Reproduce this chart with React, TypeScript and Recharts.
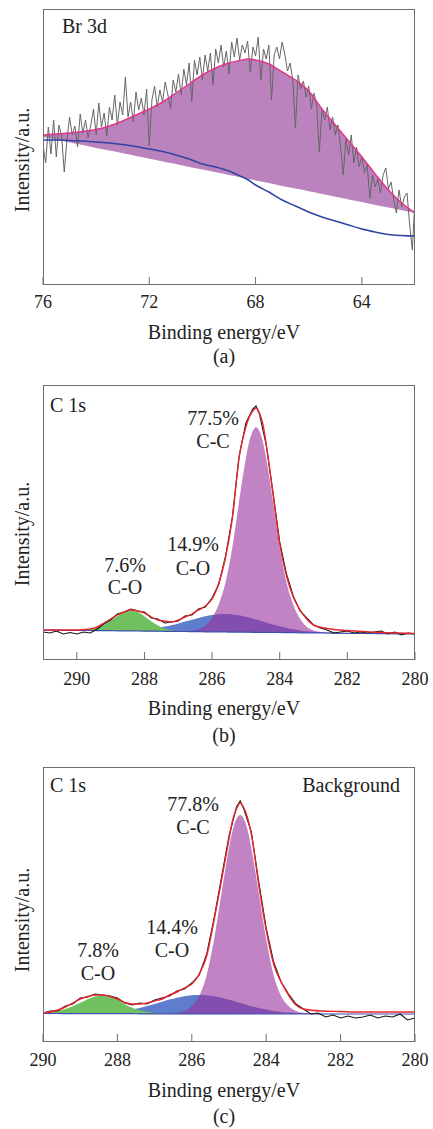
import { ComposedChart, Area, Line, XAxis, YAxis } from "recharts";

const W = 433;
const FONT = '"Liberation Serif", "Times New Roman", serif';
const FRAME = "#6e6e6e";

// ---------- (a) Br 3d ----------
const aE = [76, 75.5, 75, 74.5, 74, 73.5, 73, 72.5, 72, 71.5, 71, 70.5, 70, 69.5, 69, 68.5, 68.3, 68, 67.5, 67, 66.5, 66, 65.5, 65, 64.5, 64, 63.5, 63, 62.5, 62];
const aFit = [150, 151, 152, 153.5, 155.5, 159, 164, 170, 176, 183, 192, 201, 210, 217, 222, 225, 226, 225, 221, 213, 205, 194, 176, 160, 144, 128, 111, 95, 82, 72];
const aFloor = [148, 145.3, 142.6, 139.9, 137.1, 134.4, 131.7, 129, 126.3, 123.6, 120.9, 118.1, 115.4, 112.7, 110, 107.3, 106.2, 104.6, 101.9, 99.1, 96.4, 93.7, 91, 88.3, 85.6, 82.9, 80.1, 77.4, 74.7, 72];
const aBg = [145, 145, 144.5, 144, 143, 142, 140.5, 138.5, 136, 133.5, 130, 126, 121, 118, 114, 108, 105.5, 100, 93, 85, 79, 73, 68, 64, 60, 56, 53, 50.5, 49.5, 49];
// raw counts, 76.0 eV down to 62.0 eV every 0.1 eV
const aRawStart = 76;
const aRaw = [
  140, 122, 158, 131, 165, 128, 160, 149, 113, 145,
  168, 150, 159, 138, 171, 152, 165, 147, 160, 176,
  150, 182, 158, 172, 149, 178, 165, 190, 160, 183,
  170, 208, 168, 183, 163, 193, 175, 187, 170, 196,
  139, 185, 199, 178, 195, 183, 203, 190, 176, 205,
  193, 211, 190, 216, 200, 222, 183, 225, 210, 228,
  205, 230, 214, 232, 200, 236, 222, 240, 218, 234,
  211, 243, 228, 247, 225, 240, 232, 244, 213, 238,
  229, 248, 205, 236, 226, 240, 185, 230, 238, 226,
  243, 231, 214, 222, 205, 157, 210, 196, 204, 188,
  199, 176, 192, 180, 133, 176, 165, 178, 155, 168,
  150, 160, 138, 110, 146, 130, 150, 122, 138, 118,
  129, 112, 120, 87, 110, 98, 106, 92, 110, 117,
  96, 103, 85, 72, 95, 78, 88, 92, 60, 35,
  87,
];

// ---------- (b) C 1s ----------
const bE = [291, 290.5, 290, 289.8, 289.6, 289.4, 289.2, 289, 288.8, 288.6, 288.4, 288.2, 288, 287.8, 287.6, 287.4, 287.2, 287, 286.8, 286.6, 286.4, 286.2, 286, 285.8, 285.6, 285.4, 285.2, 285, 284.9, 284.8, 284.7, 284.6, 284.5, 284.4, 284.2, 284, 283.8, 283.6, 283.4, 283.2, 283, 282.5, 282, 281.5, 281, 280.5, 280];
const bBase = [30, 29.8, 29.6, 29.6, 29.5, 29.4, 29.3, 29.3, 29.2, 29.1, 29.1, 29, 28.9, 28.8, 28.8, 28.7, 28.6, 28.5, 28.5, 28.4, 28.3, 28.2, 28.2, 28.1, 28, 27.9, 27.9, 27.8, 27.8, 27.7, 27.7, 27.7, 27.6, 27.6, 27.5, 27.5, 27.4, 27.3, 27.2, 27.2, 27.1, 26.9, 26.7, 26.5, 26.4, 26.2, 26];
const bGreen = [0, 0, 0, 0.4, 1.1, 2.8, 5.7, 10, 14.9, 18.9, 20.5, 18.9, 14.9, 10, 5.7, 2.8, 1.1, 0.4, 0, 0, 0, 0, 0, 0, 0, 0, 0, 0, 0, 0, 0, 0, 0, 0, 0, 0, 0, 0, 0, 0, 0, 0, 0, 0, 0, 0, 0];
const bBlue = [0, 0, 0, 0, 0, 0, 0.1, 0.1, 0.25, 0.4, 0.7, 1.1, 1.6, 2.4, 3.4, 4.7, 6.2, 8, 9.9, 11.9, 13.8, 15.5, 16.8, 17.7, 18, 17.7, 16.8, 15.5, 14.7, 13.8, 12.8, 11.9, 10.9, 9.9, 8, 6.2, 4.7, 3.4, 2.4, 1.6, 1.1, 0.3, 0.1, 0, 0, 0, 0];
const bPink = [0, 0, 0, 0, 0, 0, 0, 0, 0, 0, 0, 0, 0, 0, 0, 0, 0, 0, 0.3, 1, 2.5, 6, 14, 28, 50, 85, 131, 174, 191, 201, 205, 201, 191, 174, 131, 85, 50, 28, 14, 6, 2.5, 0.3, 0, 0, 0, 0, 0];
const bFit = [30, 30, 30, 30.5, 31, 33, 37, 41, 45, 48, 50, 49, 47, 43, 40, 39, 38, 40, 43, 46, 50, 54, 61, 77, 103, 142, 203, 233, 243, 249, 252, 247, 236, 216, 166, 116, 84, 63, 50, 41, 35, 31, 29.5, 28.5, 27.5, 27, 26.5];
const bRawE = [291, 290.8, 290.6, 290.4, 290.2, 290, 289.8, 289.6, 289.4, 289.2, 289, 288.8, 288.6, 288.4, 288.2, 288, 287.8, 287.6, 287.4, 287.2, 287, 286.8, 286.6, 286.4, 286.2, 286, 285.8, 285.6, 285.4, 285.2, 285, 284.8, 284.7, 284.6, 284.4, 284.2, 284, 283.8, 283.6, 283.4, 283.2, 283, 282.8, 282.6, 282.4, 282.2, 282, 281.8, 281.6, 281.4, 281.2, 281, 280.8, 280.6, 280.4, 280.2, 280];
const bRaw = [28, 27, 29, 26, 27.5, 26, 28, 27, 31, 36, 40, 46, 48, 51, 49, 48, 42, 41, 37, 38, 39, 44, 45, 51, 53, 62, 76, 104, 143, 204, 237, 251, 254, 246, 215, 168, 118, 86, 64, 49, 42, 35, 32, 30, 27, 28, 29, 27, 28, 27, 28, 29, 26, 28, 25, 27, 26];

// ---------- (c) C 1s, background ----------
const cE = [290, 289.8, 289.6, 289.4, 289.2, 289, 288.8, 288.6, 288.4, 288.2, 288, 287.8, 287.6, 287.4, 287.2, 287, 286.8, 286.6, 286.4, 286.2, 286, 285.8, 285.6, 285.4, 285.2, 285, 284.9, 284.8, 284.7, 284.6, 284.5, 284.4, 284.2, 284, 283.8, 283.6, 283.4, 283.2, 283, 282.5, 282, 281.5, 281, 280.5, 280];
const cBase = [28.5, 28.5, 28.5, 28.4, 28.4, 28.4, 28.4, 28.4, 28.3, 28.3, 28.3, 28.3, 28.3, 28.2, 28.2, 28.2, 28.2, 28.2, 28.2, 28.1, 28.1, 28.1, 28.1, 28.1, 28.1, 28.1, 28.1, 28, 28, 28, 28, 28, 28, 28, 28, 28, 28, 28, 28, 28, 28, 28, 28, 28, 28];
const cGreen = [0.5, 1.2, 2.4, 4.5, 7.4, 10.9, 14.4, 17, 18, 17, 14.4, 9.5, 6, 3.5, 1.8, 0.8, 0.3, 0.1, 0, 0, 0, 0, 0, 0, 0, 0, 0, 0, 0, 0, 0, 0, 0, 0, 0, 0, 0, 0, 0, 0, 0, 0, 0, 0, 0];
const cBlue = [0, 0, 0, 0.05, 0.1, 0.2, 0.3, 0.5, 0.9, 1.4, 2.1, 3.1, 4.4, 5.9, 7.8, 9.9, 12.1, 14.2, 16.1, 17.7, 18.7, 19, 18.7, 17.7, 16.1, 14.2, 13.1, 12.1, 11, 9.9, 8.8, 7.8, 5.9, 4.4, 3.1, 2.1, 1.4, 0.9, 0.5, 0.15, 0, 0, 0, 0, 0];
const cPink = [0, 0, 0, 0, 0, 0, 0, 0, 0, 0, 0, 0, 0, 0, 0, 0, 0.1, 0.4, 1.2, 3, 8, 18, 39, 75, 121, 166, 184, 195, 199, 195, 184, 166, 121, 75, 39, 18, 8, 3, 1.2, 0.1, 0, 0, 0, 0, 0];
const cFit = [29, 30, 32, 35, 39, 43, 45.5, 47, 47, 45.5, 43, 39.5, 38, 38, 39, 41, 43, 47, 50, 54, 58, 68, 86, 122, 162, 203, 222, 233, 239, 234, 224, 208, 157, 112, 78, 60, 47, 37, 33, 31, 30.5, 30, 30, 30, 30];
const cRawE = [290, 289.8, 289.6, 289.4, 289.2, 289, 288.8, 288.6, 288.4, 288.2, 288, 287.8, 287.6, 287.4, 287.2, 287, 286.8, 286.6, 286.4, 286.2, 286, 285.8, 285.6, 285.4, 285.2, 285, 284.8, 284.7, 284.6, 284.4, 284.2, 284, 283.8, 283.6, 283.4, 283.2, 283, 282.8, 282.6, 282.4, 282.2, 282, 281.8, 281.6, 281.4, 281.2, 281, 280.8, 280.6, 280.4, 280.2, 280];
const cRaw = [29, 31, 31, 36, 38, 44, 45, 48, 47, 46, 44, 39, 37, 39, 38, 42, 44, 46, 51, 53, 59, 67, 88, 124, 165, 206, 235, 241, 233, 210, 160, 114, 80, 60, 48, 38, 33, 28, 29, 25, 27, 24, 26, 24, 25, 27, 24, 26, 25, 28, 22, 24];

const aTicks = [76, 72, 68, 64];
const bTicks = [290, 288, 286, 284, 282, 280];
const cTicks = [290, 288, 286, 284, 282, 280];

// rows
const aRows = aE.map((e, i) => ({ e, fit: aFit[i], bg: aBg[i], band: [aFloor[i], aFit[i]] }));
const aRawRows = aRaw.map((v, i) => ({ e: +(aRawStart - i * 0.1).toFixed(1), v }));

const peakRows = (E: number[], base: number[], g: number[], bl: number[], p: number[], fit: number[]) =>
  E.map((e, i) => ({
    e,
    base: base[i],
    fit: fit[i],
    green: [base[i], base[i] + g[i]],
    blue: [base[i], base[i] + bl[i]],
    pink: [base[i], base[i] + p[i]],
  }));
const bRows = peakRows(bE, bBase, bGreen, bBlue, bPink, bFit);
const cRows = peakRows(cE, cBase, cGreen, cBlue, cPink, cFit);
const bRawRows = bRawE.map((e, i) => ({ e, v: bRaw[i] }));
const cRawRows = cRawE.map((e, i) => ({ e, v: cRaw[i] }));

function Panel({ top, height, plotTop, plotBottom, domain, ticks, tickMargin, yMax, children }: any) {
  return (
    <div style={{ position: "absolute", left: 0, top, width: W, height }}>
      <ComposedChart
        width={W}
        height={height}
        margin={{ top: plotTop, right: 18, left: 43, bottom: height - plotBottom - 30 }}
      >
        <XAxis
          dataKey="e"
          type="number"
          domain={domain}
          reversed
          ticks={ticks}
          interval={0}
          allowDataOverflow
          height={30}
          tickSize={-8}
          tickMargin={tickMargin}
          axisLine={false}
          tickLine={{ stroke: FRAME, strokeWidth: 1 }}
          tick={{ fontFamily: FONT, fontSize: 18, fill: "#222" }}
        />
        <YAxis type="number" domain={[0, yMax]} hide allowDataOverflow />
        {children}
      </ComposedChart>
      <div
        style={{
          position: "absolute",
          left: 43,
          top: plotTop,
          width: 372,
          height: plotBottom - plotTop,
          border: `1px solid ${FRAME}`,
          boxSizing: "border-box",
          pointerEvents: "none",
        }}
      />
    </div>
  );
}

const txt = { fontFamily: FONT, fontSize: 20, fill: "#222" } as const;

function Labels() {
  const yLab = (cy: number) => (
    <text x={29} y={cy} textAnchor="middle" transform={`rotate(-90 29 ${cy})`} {...txt}>
      Intensity/a.u.
    </text>
  );
  return (
    <svg width={W} height={1129} style={{ position: "absolute", left: 0, top: 0, pointerEvents: "none" }}>
      {/* (a) */}
      <text x={62} y={33} {...txt}>Br 3d</text>
      {yLab(160)}
      <text x={224} y={339} textAnchor="middle" {...txt}>Binding energy/eV</text>
      <text x={224} y={363} textAnchor="middle" {...txt}>(a)</text>
      {/* (b) */}
      <text x={50} y={412} {...txt}>C 1s</text>
      <text x={213} y={425} textAnchor="middle" {...txt}>77.5%</text>
      <text x={213} y={448} textAnchor="middle" {...txt}>C-C</text>
      <text x={193} y={551} textAnchor="middle" {...txt}>14.9%</text>
      <text x={193} y={575} textAnchor="middle" {...txt}>C-O</text>
      <text x={125} y={572} textAnchor="middle" {...txt}>7.6%</text>
      <text x={125} y={594} textAnchor="middle" {...txt}>C-O</text>
      {yLab(534)}
      <text x={224} y={715} textAnchor="middle" {...txt}>Binding energy/eV</text>
      <text x={224} y={742} textAnchor="middle" {...txt}>(b)</text>
      {/* (c) */}
      <text x={50} y={792} {...txt}>C 1s</text>
      <text x={400} y={792} textAnchor="end" {...txt}>Background</text>
      <text x={193} y={811} textAnchor="middle" {...txt}>77.8%</text>
      <text x={193} y={834} textAnchor="middle" {...txt}>C-C</text>
      <text x={172} y={934} textAnchor="middle" {...txt}>14.4%</text>
      <text x={172} y={957} textAnchor="middle" {...txt}>C-O</text>
      <text x={98} y={957} textAnchor="middle" {...txt}>7.8%</text>
      <text x={98} y={980} textAnchor="middle" {...txt}>C-O</text>
      {yLab(920)}
      <text x={224} y={1097} textAnchor="middle" {...txt}>Binding energy/eV</text>
      <text x={224} y={1123} textAnchor="middle" {...txt}>(c)</text>
    </svg>
  );
}

function peakSeries(rows: any[], rawRows: any[]) {
  return [
    <Area key="blue" data={rows} dataKey="blue" type="monotone" fill="#5f7dcd" fillOpacity={1} stroke="none" isAnimationActive={false} />,
    <Area key="green" data={rows} dataKey="green" type="monotone" fill="#6fc15f" fillOpacity={1} stroke="none" isAnimationActive={false} />,
    <Area key="pink" data={rows} dataKey="pink" type="monotone" fill="#99309d" fillOpacity={0.6} stroke="none" isAnimationActive={false} />,
    <Line key="base" data={rows} dataKey="base" type="monotone" stroke="#3e4fb0" strokeWidth={1.2} dot={false} isAnimationActive={false} />,
    <Line key="raw" data={rawRows} dataKey="v" type="linear" stroke="#141414" strokeWidth={1.1} dot={false} isAnimationActive={false} />,
    <Line key="fit" data={rows} dataKey="fit" type="monotone" stroke="#e8252b" strokeWidth={1.4} dot={false} isAnimationActive={false} />,
  ];
}

export default function App() {
  return (
    <div style={{ position: "absolute", left: 0, top: 0, width: W, height: 1129, background: "#fff", overflow: "hidden" }}>
      <Panel top={0} height={380} plotTop={9} plotBottom={285} domain={[62, 76]} ticks={aTicks} tickMargin={18} yMax={276}>
        <Line data={aRawRows} dataKey="v" type="linear" stroke="#666" strokeWidth={1} dot={false} isAnimationActive={false} />
        <Area data={aRows} dataKey="band" type="monotone" fill="#a860ac" fillOpacity={0.78} stroke="none" isAnimationActive={false} />
        <Line data={aRows} dataKey="fit" type="monotone" stroke="#e0368c" strokeWidth={1.5} dot={false} isAnimationActive={false} />
        <Line data={aRows} dataKey="bg" type="monotone" stroke="#2f43a0" strokeWidth={1.5} dot={false} isAnimationActive={false} />
      </Panel>
      <Panel top={380} height={380} plotTop={5} plotBottom={280} domain={[280, 291]} ticks={bTicks} tickMargin={20} yMax={275}>
        {peakSeries(bRows, bRawRows)}
      </Panel>
      <Panel top={760} height={369} plotTop={7} plotBottom={282} domain={[280, 290]} ticks={cTicks} tickMargin={19} yMax={275}>
        {peakSeries(cRows, cRawRows)}
      </Panel>
      <Labels />
    </div>
  );
}
